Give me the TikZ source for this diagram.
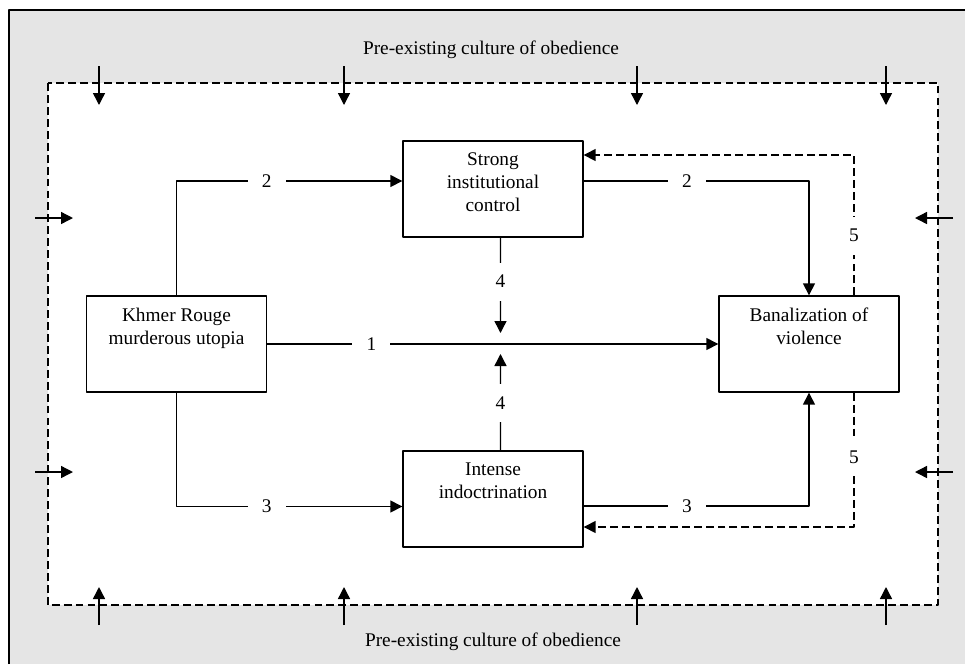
\documentclass[tikz,border=0pt]{standalone}
\usepackage{fontspec}
\setmainfont{Liberation Serif}
\usetikzlibrary{arrows.meta, calc}

\definecolor{paper}{RGB}{229,229,229}
\newcommand{\boxtext}[1]{\parbox[c][1.44cm][t]{3.6cm}{\centering #1}}

\begin{document}
\begin{tikzpicture}[x=0.02cm, y=-0.02cm, line join=round,
  font=\fontsize{11}{13.1}\selectfont,
  stage/.style={draw, line width=0.8pt, fill=white, inner xsep=0pt, inner ysep=0.24cm},
  flow/.style={line width=0.8pt, -{Triangle[length=0.24cm, width=0.24cm]}},
  feedback/.style={flow, dash pattern=on 4.5pt off 2.3pt},
  num/.style={fill=white, inner sep=0pt, minimum size=0.76cm}]
\useasboundingbox (0,0) rectangle (965,664);
\fill[paper] (9,10) rectangle (965,664);
\draw[line width=0.8pt] (9,664) -- (9,10) -- (965,10);
\draw[line width=0.7pt, dash pattern=on 4.5pt off 2.3pt, fill=white] (48,83) rectangle (938,605);
\node (toptext) at (491,50) {Pre-existing culture of obedience};
\node (bottomtext) at (493,642) {Pre-existing culture of obedience};
\foreach \x in {99,344,637,886} {
  \draw[flow] (\x,66) -- (\x,105);
  \draw[flow] (\x,625) -- (\x,587);
}
\foreach \y in {218,472} {
  \draw[flow] (35,\y) -- (73,\y);
  \draw[flow] (953,\y) -- (915,\y);
}
\node[stage] (khmer) at (176.5,344) {\boxtext{Khmer Rouge\\murderous utopia}};
\node[stage] (strong) at (493,189) {\boxtext{Strong\\institutional\\control}};
\node[stage] (intense) at (493,499) {\boxtext{Intense\\indoctrination}};
\node[stage] (banal) at (809,344) {\boxtext{Banalization of\\violence}};
\coordinate (meet) at ($(strong.south)!.5!(intense.north)$);
\draw[flow] (khmer.east) -- node[num, pos=0.231] {1} (banal.west);
\draw[flow] (khmer.north) |- node[num, pos=0.70] {2} ([yshift=0.16cm]strong.west);
\draw[flow] (khmer.south) |- node[num, pos=0.70] {3} ([yshift=-0.15cm]intense.west);
\draw[flow] ([yshift=0.16cm]strong.east) -| node[num, pos=0.229] {2} (banal.north);
\draw[flow] ([yshift=-0.14cm]intense.east) -| node[num, pos=0.229] {3} (banal.south);
\draw[flow] ([xshift=0.15cm]strong.south) -- node[num, pos=0.46] {4} ([xshift=0.15cm, yshift=0.22cm]meet);
\draw[flow] ([xshift=0.15cm]intense.north) -- node[num, pos=0.495] {4} ([xshift=0.15cm, yshift=-0.2cm]meet);
\draw[feedback] ([xshift=0.9cm]banal.north) |- node[num, pos=0.2125] {5} ([yshift=0.68cm]strong.east);
\draw[feedback] ([xshift=0.9cm]banal.south) |- node[num, pos=0.24] {5} ([yshift=-0.56cm]intense.east);
\end{tikzpicture}
\end{document}
